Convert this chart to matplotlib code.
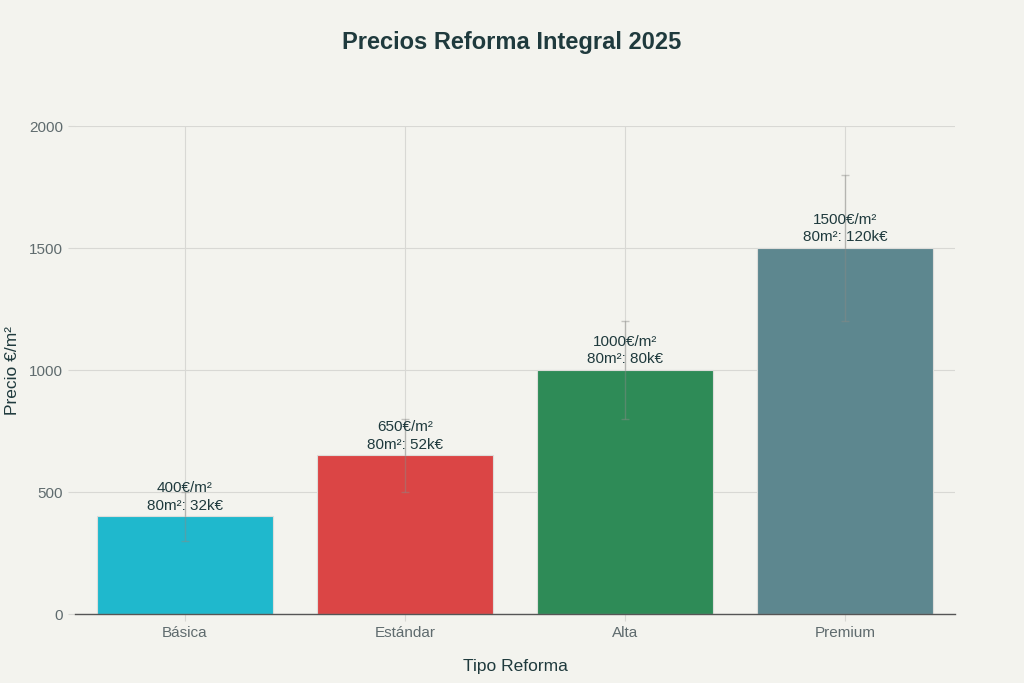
import numpy as np
import matplotlib.pyplot as plt

# --- Data ---
categorias = ["Básica", "Estándar", "Alta", "Premium"]
precio_m2 = [400, 650, 1000, 1500]
precio_min = [300, 500, 800, 1200]
precio_max = [500, 800, 1200, 1800]
total_80m2 = ["32k€", "52k€", "80k€", "120k€"]
colores = ["#1FB8CD", "#DB4545", "#2E8B57", "#5D878F"]

bg = "#F3F3EE"
texto = "#1F3A3D"
gris = "#5F6B6E"

plt.rcParams['font.family'] = ['Liberation Sans', 'DejaVu Sans']

fig = plt.figure(figsize=(10.24, 6.83), dpi=100, facecolor=bg)
ax = fig.add_axes([0.0732, 0.101, 0.8594, 0.7145], facecolor=bg)

x = np.arange(len(categorias))
precio = np.array(precio_m2)
err = [precio - np.array(precio_min), np.array(precio_max) - precio]

ax.bar(x, precio, width=0.8, color=colores, edgecolor="#DDDDDA", linewidth=0.8, zorder=2)
ax.errorbar(x, precio, yerr=err, fmt="none", ecolor="#8A8A86", alpha=0.45,
            elinewidth=1.0, capsize=3, capthick=1.0, zorder=3)

for xi, p, t in zip(x, precio_m2, total_80m2):
    ax.text(xi, p + 15, f"{p}€/m²\n80m²: {t}", ha="center", va="bottom",
            fontsize=11, color=texto, linespacing=1.35, zorder=4)

ax.set_xlim(-0.5, 3.5)
ax.set_ylim(0, 2000)
ax.set_yticks([0, 500, 1000, 1500, 2000])
ax.set_xticks(x)
ax.set_xticklabels(categorias)

ax.grid(True, color="#D8D8D4", linewidth=0.8, zorder=0)
ax.set_axisbelow(True)
for s in ["top", "right", "left"]:
    ax.spines[s].set_visible(False)
ax.spines["bottom"].set_color("#555555")
ax.spines["bottom"].set_linewidth(1)

ax.tick_params(axis="both", colors="#D8D8D4", labelcolor=gris, labelsize=11, length=5)

ax.set_xlabel("Tipo Reforma", fontsize=12.5, color=texto)
ax.xaxis.set_label_coords(0.5, -0.092)
ax.set_ylabel("Precio €/m²", fontsize=12.5, color=texto)
ax.yaxis.set_label_coords(-0.063, 0.5)

fig.suptitle("Precios Reforma Integral 2025", x=0.5, y=0.955, fontsize=17,
             fontweight="bold", color=texto)

fig.savefig("out.png", dpi=100, facecolor=bg)
